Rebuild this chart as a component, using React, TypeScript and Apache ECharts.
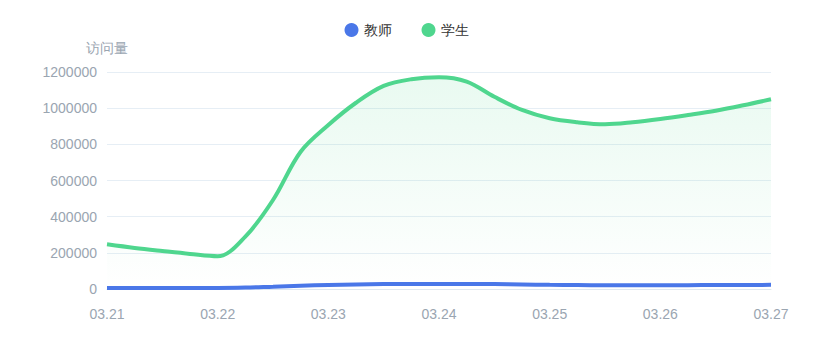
import React, { useEffect, useRef } from "react";
import * as echarts from "echarts";

const categories = [
  "03.21 00:00", "03.21 06:00", "03.21 12:00", "03.21 18:00",
  "03.22 00:00", "03.22 06:00", "03.22 12:00", "03.22 18:00",
  "03.23 00:00", "03.23 06:00", "03.23 12:00", "03.23 18:00",
  "03.24 00:00", "03.24 06:00", "03.24 12:00", "03.24 18:00",
  "03.25 00:00", "03.25 06:00", "03.25 12:00", "03.25 18:00",
  "03.26 00:00", "03.26 06:00", "03.26 12:00", "03.26 18:00",
  "03.27 00:00",
];
const teacherValues = [
  6000, 6000, 6000, 6000, 6000, 8000, 13000, 18000, 22000, 25000, 27000, 28000, 28000,
  28000, 27000, 25000, 23000, 22000, 21000, 21000, 21000, 21000, 22000, 22000, 23000,
];
const studentValues = [
  247000, 227000, 210000, 194000, 181000, 290000, 492000, 759000, 907000, 1030000, 1123000, 1160000, 1171000,
  1147000, 1063000, 990000, 944000, 922000, 911000, 922000, 940000, 962000, 986000, 1016000, 1049000,
];
const seriesNames = ["教师", "学生"];

export default function App() {
  const ref = useRef<HTMLDivElement>(null);
  useEffect(() => {
    document.body.style.margin = "0";
    const chart = echarts.init(ref.current!, null, { renderer: "svg" });
    chart.setOption({
      animation: false,
      legend: {
        top: 18,
        left: "center",
        icon: "circle",
        itemWidth: 14,
        itemHeight: 14,
        itemGap: 30,
        textStyle: { color: "#333", fontSize: 14 },
        data: seriesNames,
      },
      grid: { left: 107, right: 42, top: 72, bottom: 71 },
      xAxis: {
        type: "category",
        data: categories,
        boundaryGap: false,
        axisLine: { lineStyle: { color: "#dfe8f0" } },
        axisTick: { show: false },
        axisLabel: {
          color: "#9aa5b1",
          fontSize: 14,
          margin: 18,
          interval: 3,
          formatter: (v: string) => v.slice(0, 5),
        },
      },
      yAxis: {
        type: "value",
        name: "访问量",
        nameTextStyle: { color: "#9aa5b1", fontSize: 14, padding: [0, 0, 2, 0] },
        min: 0,
        max: 1200000,
        interval: 200000,
        axisLine: { show: false },
        axisTick: { show: false },
        axisLabel: { color: "#9aa5b1", fontSize: 14, margin: 10, formatter: (v: number) => String(v) },
        splitLine: { lineStyle: { color: "#e6eef5" } },
      },
      series: [
        {
          name: seriesNames[0],
          type: "line",
          smooth: 0.35,
          showSymbol: false,
          data: teacherValues,
          itemStyle: { color: "#4a77e8" },
          lineStyle: { width: 4, color: "#4a77e8" },
        },
        {
          name: seriesNames[1],
          type: "line",
          smooth: 0.35,
          showSymbol: false,
          data: studentValues,
          itemStyle: { color: "#4fd68e" },
          lineStyle: { width: 4, color: "#4fd68e" },
          areaStyle: {
            color: new echarts.graphic.LinearGradient(0, 0, 0, 1, [
              { offset: 0, color: "rgba(79,214,142,0.18)" },
              { offset: 1, color: "rgba(79,214,142,0.0)" },
            ]),
          },
        },
      ],
    });
    return () => chart.dispose();
  }, []);
  return <div ref={ref} style={{ width: 813, height: 360 }} />;
}
